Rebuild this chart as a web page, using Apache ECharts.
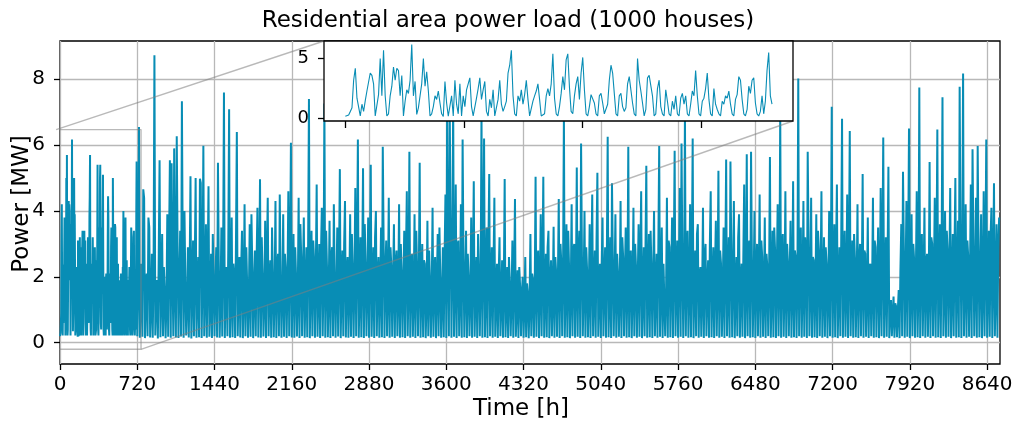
<!DOCTYPE html>
<html>
<head>
<meta charset="utf-8">
<title>Residential area power load</title>
<script src="https://cdn.jsdelivr.net/npm/echarts@6.0.0/dist/echarts.min.js"></script>
<style>
  html, body { margin: 0; padding: 0; background: #fff; }
  #chart { width: 1016px; height: 429px; }
</style>
</head>
<body>
<div id="chart"></div>
<script>
// first month (hours 0..720), one value every 2.8 h  [MW]
var INSET_STEP = 2.8;
var insetLoad = [
  0.2,0.25,0.3,0.6,0.9,3.2,4.2,1.7,1.6,0.22,
  1.2,0.6,1.5,2.3,2.4,3.8,3.6,2.9,0.22,0.25,
  2.0,5.0,1.9,5.7,1.9,0.22,0.4,1.9,2.7,4.3,
  3.2,4.2,4.0,1.9,3.6,0.22,1.45,2.4,2.1,3.2,
  6.17,1.9,3.1,0.35,0.9,1.9,2.9,5.0,2.7,3.9,
  2.3,0.22,0.4,1.0,1.9,1.6,2.3,1.3,0.4,0.18,
  3.1,1.3,0.2,0.25,1.9,0.22,3.2,1.2,0.4,2.9,
  0.22,1.9,1.0,2.4,2.9,3.4,1.0,0.22,0.25,1.7,
  2.5,3.4,1.6,2.4,3.1,0.6,0.22,1.6,0.9,2.4,
  0.22,0.25,1.6,3.2,1.2,0.6,1.0,1.45,3.8,4.45,
  5.7,1.9,0.4,0.22,1.9,1.45,2.4,1.2,2.0,3.2,
  1.6,0.22,0.25,1.45,1.9,2.3,2.9,1.6,0.22,0.3,
  0.4,1.9,2.5,1.9,2.9,5.4,1.7,0.4,0.22,1.0,
  2.1,3.5,2.4,4.9,5.4,2.6,0.6,0.4,1.9,2.9,
  3.5,1.6,3.8,5.1,2.4,0.4,0.22,1.0,2.0,1.9,
  1.3,0.4,0.22,1.9,2.1,1.3,0.4,0.35,1.2,3.2,
  4.45,3.8,2.1,0.4,0.22,1.9,2.1,1.0,0.6,0.9,
  2.9,3.5,2.4,1.3,0.4,0.22,5.0,3.2,2.3,1.3,
  0.22,0.76,3.4,3.6,3.5,1.9,0.22,0.4,2.5,3.2,
  1.0,0.4,0.22,2.4,1.45,0.4,0.22,1.45,0.76,1.9,
  0.4,0.22,1.7,2.1,1.2,1.9,0.4,0.22,1.2,2.3,
  1.9,4.0,1.9,0.4,0.22,1.45,1.7,2.5,3.8,1.6,
  0.4,0.22,2.5,1.2,0.76,0.4,0.22,1.45,1.2,1.9,
  1.7,2.3,1.2,0.4,0.22,1.6,2.0,3.5,3.2,1.6,
  0.4,0.22,0.76,2.7,2.1,3.2,3.4,1.3,0.4,0.22,
  0.6,1.9,0.4,1.45,4.0,5.5,1.9,1.2
];

// rest of the year (day 30..364), three readings a day at 0h, 8h, 16h  [MW]
var YEAR_START = 720;
var YEAR_STEP = 8;
var yearLoad = [
  0.2,1.8,6.55, 0.15,1.2,2.4, 0.18,4.66,4.39, 0.14,1.6,2.1, 0.2,3.8,3.5, 0.16,1.1,2.7, 0.15,2.2,8.73, 0.22,1.4,1.9, 0.13,2.6,5.54, 0.17,1.5,3.3,
  0.2,2.3,1.6, 0.14,1.2,3.9, 0.18,2.9,5.54, 0.15,5.45,2.2, 0.2,5.9,1.7, 0.16,6.27,2.8, 0.14,1.9,3.4, 0.19,7.33,2.5, 0.15,4.0,1.8, 0.22,1.3,2.9,
  0.16,2.1,5.05, 0.13,1.7,3.1, 0.2,2.4,5.0, 0.15,1.5,2.6, 0.17,4.98,4.85, 0.14,2.0,5.98, 0.2,1.6,3.6, 0.15,2.3,4.75, 0.18,1.2,2.7, 0.14,3.3,1.9,
  0.2,1.8,2.9, 0.16,5.46,2.2, 0.15,1.4,3.5, 0.19,2.6,7.6, 0.14,1.9,2.3, 0.2,2.8,7.09, 0.15,1.3,3.8, 0.17,2.4,2.0, 0.14,3.1,6.4, 0.2,1.6,2.6,
  0.16,2.2,3.4, 0.14,1.5,4.2, 0.2,2.9,1.8, 0.15,1.4,3.6, 0.18,3.9,2.3, 0.14,1.7,2.8, 0.2,2.5,4.1, 0.16,1.9,4.96, 0.15,3.2,2.1, 0.19,1.3,3.7,
  0.14,2.6,4.4, 0.2,1.8,2.5, 0.15,3.5,1.9, 0.17,1.6,4.3, 0.14,2.3,2.7, 0.2,4.5,1.8, 0.15,1.5,3.9, 0.18,2.7,2.2, 0.14,1.9,4.6, 0.2,2.4,6.07,
  0.16,1.7,3.3, 0.15,2.9,2.0, 0.19,1.5,4.4, 0.14,3.6,2.6, 0.2,2.0,3.8, 0.15,1.6,2.9, 0.17,2.8,7.4, 0.14,1.8,3.4, 0.2,3.1,2.5, 0.15,2.2,4.8,
  0.18,1.6,3.0, 0.14,2.7,4.1, 0.2,1.9,7.26, 0.15,3.4,2.3, 0.17,1.5,3.7, 0.14,2.6,2.9, 0.2,4.2,1.8, 0.15,1.8,3.5, 0.19,2.4,5.27, 0.14,1.7,2.8,
  0.2,3.0,4.3, 0.16,2.1,2.6, 0.15,1.6,3.9, 0.18,3.3,2.2, 0.14,2.0,4.7, 0.2,2.7,6.17, 0.15,1.5,3.2, 0.17,2.3,5.3, 0.14,3.6,2.4, 0.2,1.8,3.8,
  0.15,2.5,5.4, 0.18,1.6,2.9, 0.14,3.2,4.0, 0.2,2.0,2.6, 0.15,1.7,3.5, 0.17,5.95,5.97, 0.14,2.2,3.1, 0.2,1.6,4.4, 0.15,2.9,2.3, 0.18,1.9,3.6,
  0.14,2.4,2.8, 0.2,1.5,4.2, 0.15,3.0,2.1, 0.17,1.8,3.4, 0.14,2.6,4.6, 0.2,1.7,5.8, 0.15,2.3,2.7, 0.18,1.4,3.9, 0.14,3.4,2.2, 0.2,2.0,5.46,
  0.15,1.6,3.0, 0.17,2.5,2.4, 0.14,1.3,3.7, 0.2,2.8,1.9, 0.15,1.5,4.1, 0.18,2.2,2.6, 0.14,1.8,3.3, 0.2,3.5,2.0, 0.15,1.4,2.9, 0.17,2.6,4.5,
  0.14,7.2,2.3, 0.2,7.0,3.6, 0.15,2.4,7.4, 0.18,1.7,4.8, 0.14,2.9,3.1, 0.2,1.5,4.2, 0.15,6.17,2.5, 0.17,1.9,3.4, 0.14,2.7,2.0, 0.2,1.4,3.8,
  0.15,2.2,4.9, 0.18,1.6,2.6, 0.14,3.3,2.1, 0.2,1.8,7.0, 0.15,2.5,6.2, 0.17,1.5,3.5, 0.14,2.8,5.12, 0.2,1.7,2.9, 0.15,2.3,4.4, 0.18,1.4,2.4,
  0.14,2.0,3.2, 0.2,1.3,2.5, 0.15,1.8,4.97, 0.17,1.2,2.3, 0.14,2.6,1.8, 0.2,1.4,3.1, 0.15,1.9,4.36, 0.18,1.1,2.2, 0.14,2.3,1.7, 0.2,1.5,2.0,
  0.15,1.2,2.6, 0.17,1.8,1.5, 0.14,1.3,3.3, 0.2,2.1,1.9, 0.15,1.6,5.04, 0.18,2.4,2.8, 0.14,1.7,3.9, 0.2,2.2,5.04, 0.15,1.5,2.7, 0.17,2.9,3.4,
  0.14,1.8,2.5, 0.2,1.4,3.52, 0.15,2.6,2.1, 0.18,1.9,4.36, 0.14,3.0,2.4, 0.2,2.2,6.9, 0.15,1.7,3.6, 0.17,3.4,2.3, 0.14,1.6,4.2, 0.2,2.8,3.0,
  0.15,1.9,5.32, 0.18,2.5,3.4, 0.14,6.05,2.6, 0.2,1.8,4.0, 0.15,2.9,2.2, 0.17,1.5,3.6, 0.14,2.4,4.5, 0.2,1.7,2.8, 0.15,3.1,5.16, 0.18,1.6,2.4,
  0.14,2.3,3.8, 0.2,1.9,2.9, 0.15,2.6,6.25, 0.17,1.4,3.2, 0.14,4.84,2.5, 0.2,1.8,3.9, 0.15,2.7,2.1, 0.18,1.5,4.3, 0.14,3.2,2.6, 0.2,2.0,3.5,
  0.15,1.7,5.95, 0.17,2.5,2.8, 0.14,1.6,4.1, 0.2,3.0,2.3, 0.15,1.9,3.6, 0.18,2.4,4.6, 0.14,1.5,2.9, 0.2,2.8,5.37, 0.15,1.8,3.3, 0.17,3.4,2.2,
  0.14,2.1,4.0, 0.2,1.6,2.7, 0.15,2.9,5.97, 0.18,1.7,3.5, 0.14,2.4,2.4, 0.2,1.5,4.4, 0.15,3.1,2.9, 0.17,2.0,3.8, 0.14,2.6,5.83, 0.2,1.8,3.1,
  0.15,2.3,4.7, 0.18,6.05,2.6, 0.14,1.9,7.0, 0.2,2.7,3.4, 0.15,1.6,4.2, 0.17,2.4,6.2, 0.14,1.7,2.8, 0.2,3.3,3.6, 0.15,2.0,2.3, 0.18,1.5,4.1,
  0.14,2.6,3.0, 0.2,1.8,2.5, 0.15,3.0,4.6, 0.17,1.6,2.9, 0.14,2.2,3.7, 0.2,1.9,5.22, 0.15,2.8,2.4, 0.18,1.5,3.5, 0.14,2.4,5.56, 0.2,1.7,3.2,
  0.15,5.5,2.7, 0.17,2.1,4.3, 0.14,1.6,2.6, 0.2,3.2,3.9, 0.15,1.9,2.4, 0.18,2.6,4.8, 0.14,1.8,5.72, 0.2,2.9,3.1, 0.15,5.8,2.5, 0.17,1.7,4.0,
  0.14,2.4,3.0, 0.2,1.9,4.5, 0.15,3.1,2.6, 0.18,1.6,3.8, 0.14,2.7,2.3, 0.2,2.0,5.64, 0.15,1.5,3.4, 0.17,3.5,2.8, 0.14,2.2,4.2, 0.2,1.8,7.0,
  0.15,2.6,3.3, 0.18,1.7,4.6, 0.14,3.0,2.4, 0.2,2.1,3.7, 0.15,1.6,4.9, 0.17,2.8,2.6, 0.14,1.9,8.02, 0.2,2.5,3.5, 0.15,1.7,4.3, 0.18,3.2,2.7,
  0.14,5.8,3.1, 0.2,1.8,4.4, 0.15,2.6,2.5, 0.17,1.6,3.9, 0.14,3.4,2.8, 0.2,2.0,4.6, 0.15,1.7,3.2, 0.18,2.9,2.4, 0.14,1.5,4.0, 0.2,2.4,7.16,
  0.15,1.9,3.6, 0.17,2.7,4.8, 0.14,1.6,2.9, 0.2,3.0,6.8, 0.15,2.2,3.4, 0.18,1.7,4.5, 0.14,2.5,6.43, 0.2,1.8,3.1, 0.15,3.3,2.6, 0.17,1.6,4.2,
  0.14,2.4,3.0, 0.2,1.9,5.12, 0.15,2.8,2.7, 0.18,1.5,3.8, 0.14,2.3,2.4, 0.2,1.7,4.4, 0.15,3.1,2.9, 0.17,2.0,3.5, 0.14,1.6,4.7, 0.2,2.6,6.23,
  0.15,1.8,3.2, 0.18,2.4,5.34, 0.14,1.0,1.3, 0.2,0.9,1.4, 0.15,1.2,1.1, 0.17,1.0,1.6, 0.14,2.2,3.6, 0.2,5.19,2.8, 0.15,1.9,4.3, 0.18,2.7,6.5,
  0.14,1.7,3.9, 0.2,3.0,2.5, 0.15,2.1,4.6, 0.17,1.6,7.75, 0.14,2.8,3.3, 0.2,1.9,4.1, 0.15,2.4,2.7, 0.18,1.7,5.49, 0.14,3.2,3.0, 0.2,2.0,4.4,
  0.15,2.6,6.47, 0.17,1.8,3.6, 0.14,2.9,7.45, 0.2,1.6,4.0, 0.15,3.4,2.8, 0.18,2.2,4.7, 0.14,1.7,3.3, 0.2,2.8,5.0, 0.15,1.9,3.7, 0.17,7.77,2.9,
  0.14,2.5,8.17, 0.2,1.8,4.2, 0.15,3.1,2.6, 0.18,2.0,4.8, 0.14,5.87,3.1, 0.2,1.9,4.4, 0.15,5.97,2.7, 0.17,2.3,3.9, 0.14,1.7,4.6, 0.2,2.6,6.17,
  0.15,1.9,3.4, 0.18,3.2,4.1, 0.14,2.1,4.84, 0.2,1.7,3.6, 0.15,2.9,3.8
];

var xTicks = [0, 720, 1440, 2160, 2880, 3600, 4320, 5040, 5760, 6480, 7200, 7920, 8640];
var yTicks = [0, 2, 4, 6, 8];
var insetXTicks = [0, 200, 400, 600];
var insetYTicks = [0, 5];

// axis limits (main y and inset limits as matplotlib autoscaled them)
var X_RANGE = [0, 8760];
var Y_RANGE = [-0.646, 9.16];
var INSET_X = [-36, 755];
var INSET_Y = [-0.2, 6.47];

var font = 'DejaVu Sans';
var lineColor = '#088db5';
var gridColor = '#b8b8b8';
var zoomColor = 'rgba(128,128,128,0.55)';

var insetPoints = insetLoad.map(function (v, i) { return [i * INSET_STEP, v]; });
var loadPoints = insetPoints.concat(yearLoad.map(function (v, i) { return [YEAR_START + i * YEAR_STEP, v]; }));
// zoom indicator rectangle drawn on the main axes
var zoomRect = [
  [INSET_X[0], INSET_Y[1]], [INSET_X[1], INSET_Y[1]], [INSET_X[1], INSET_Y[0]],
  [INSET_X[0], INSET_Y[0]], [INSET_X[0], INSET_Y[1]]
];

function plain(v) { return String(v); }

function valueAxis(extra) {
  var base = {
    type: 'value',
    axisLine: { show: false, onZero: false },
    splitLine: { show: false }
  };
  return Object.assign(base, extra);
}

var chart = echarts.init(document.getElementById('chart'));
var option = {
  animation: false,
  backgroundColor: '#fff',
  title: {
    text: 'Residential area power load (1000 houses)',
    left: 'center', top: 5,
    textStyle: { fontFamily: font, fontSize: 23, fontWeight: 'normal', color: '#000' }
  },
  grid: [
    { left: 60, top: 41, width: 940, height: 323, outerBoundsMode: 'none', containLabel: false,
      show: true, borderColor: '#000', borderWidth: 1.3, backgroundColor: 'transparent' },
    { left: 324, top: 41, width: 469, height: 80, outerBoundsMode: 'none', containLabel: false,
      show: true, borderColor: '#000', borderWidth: 1.3, backgroundColor: '#fff', zlevel: 1 }
  ],
  xAxis: [
    valueAxis({
      gridIndex: 0, min: X_RANGE[0], max: X_RANGE[1],
      axisTick: { show: true, length: 6, customValues: xTicks, lineStyle: { color: '#000', width: 1.3 } },
      axisLabel: { color: '#000', fontFamily: font, fontSize: 20, margin: 11, customValues: xTicks, formatter: plain },
      splitLine: { show: true, lineStyle: { color: gridColor, width: 1.3 } }
    }),
    valueAxis({
      gridIndex: 1, min: INSET_X[0], max: INSET_X[1], zlevel: 1,
      axisTick: { show: true, length: 7, customValues: insetXTicks, lineStyle: { color: '#000', width: 1.3 } },
      axisLabel: { show: false }
    })
  ],
  yAxis: [
    valueAxis({
      gridIndex: 0, min: Y_RANGE[0], max: Y_RANGE[1],
      axisTick: { show: true, length: 6, customValues: yTicks, lineStyle: { color: '#000', width: 1.3 } },
      axisLabel: { color: '#000', fontFamily: font, fontSize: 20, margin: 15, customValues: yTicks, formatter: plain },
      splitLine: { show: true, lineStyle: { color: gridColor, width: 1.3 } }
    }),
    valueAxis({
      gridIndex: 1, min: INSET_Y[0], max: INSET_Y[1], zlevel: 1,
      axisTick: { show: true, length: 6, customValues: insetYTicks, lineStyle: { color: '#000', width: 1.3 } },
      axisLabel: { color: '#000', fontFamily: font, fontSize: 18, margin: 15, customValues: insetYTicks, formatter: plain }
    })
  ],
  series: [
    {
      type: 'line', xAxisIndex: 0, yAxisIndex: 0, data: loadPoints,
      symbol: 'none', clip: true, z: 2,
      lineStyle: { color: lineColor, width: 2.0 }
    },
    {
      type: 'line', xAxisIndex: 0, yAxisIndex: 0, data: zoomRect,
      symbol: 'none', clip: true, z: 4, silent: true,
      lineStyle: { color: zoomColor, width: 1.4 }
    },
    {
      type: 'line', xAxisIndex: 1, yAxisIndex: 1, data: insetPoints,
      symbol: 'none', clip: true, zlevel: 1, z: 2,
      lineStyle: { color: lineColor, width: 1.1 }
    }
  ],
  graphic: [
    {
      type: 'text', x: 521, y: 409, z: 10,
      style: { text: 'Time [h]', fill: '#000', fontFamily: font, fontSize: 23, align: 'center', verticalAlign: 'middle' }
    },
    {
      type: 'text', x: 22, y: 204, z: 10, rotation: Math.PI / 2,
      style: { text: 'Power [MW]', fill: '#000', fontFamily: font, fontSize: 23, align: 'center', verticalAlign: 'middle' }
    }
  ]
};
chart.setOption(option);

// connector lines from the zoom rectangle corners to the inset corners
var a0 = chart.convertToPixel({ gridIndex: 0 }, [INSET_X[0], INSET_Y[1]]);
var a1 = chart.convertToPixel({ gridIndex: 1 }, [INSET_X[0], INSET_Y[1]]);
var b0 = chart.convertToPixel({ gridIndex: 0 }, [INSET_X[1], INSET_Y[0]]);
var b1 = chart.convertToPixel({ gridIndex: 1 }, [INSET_X[1], INSET_Y[0]]);
chart.setOption({
  graphic: [
    option.graphic[0],
    option.graphic[1],
    { type: 'line', z: 20, silent: true, shape: { x1: a0[0], y1: a0[1], x2: a1[0], y2: a1[1] }, style: { stroke: zoomColor, lineWidth: 1.4 } },
    { type: 'line', z: 20, silent: true, shape: { x1: b0[0], y1: b0[1], x2: b1[0], y2: b1[1] }, style: { stroke: zoomColor, lineWidth: 1.4 } }
  ]
});
</script>
</body>
</html>
